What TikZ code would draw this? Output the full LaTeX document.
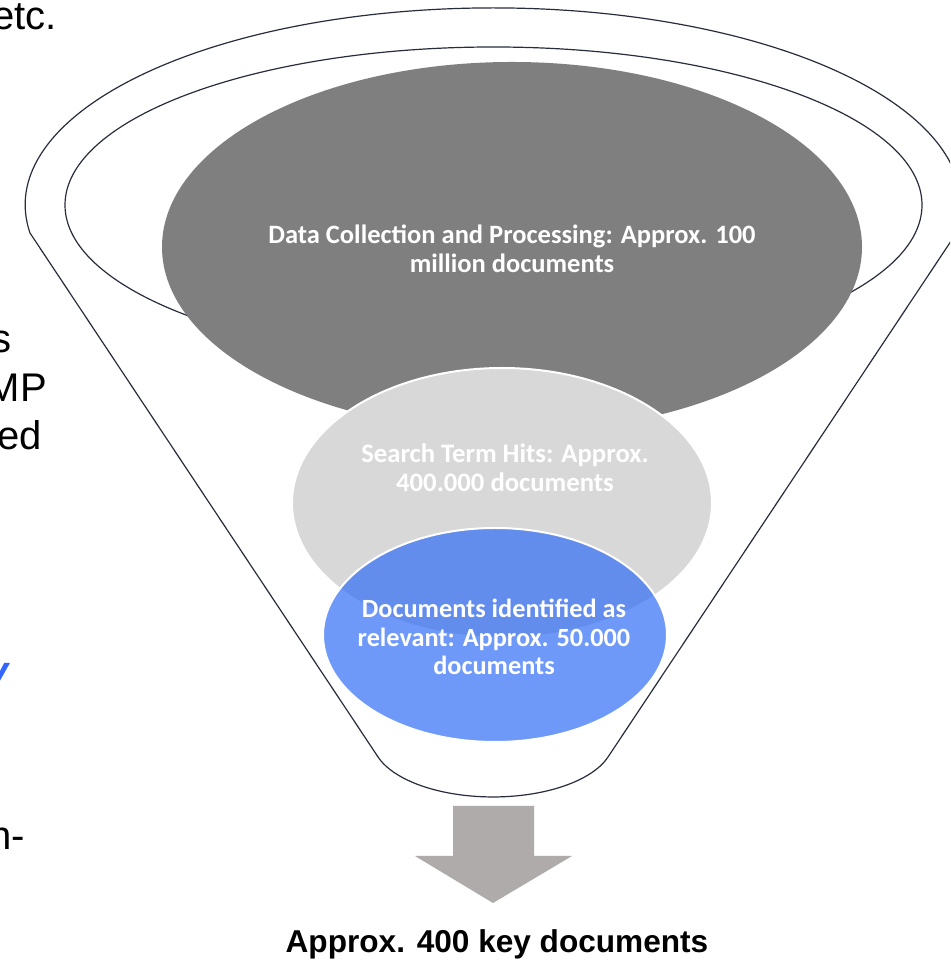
\documentclass[tikz,border=0pt]{standalone}
\usepackage{fontspec}
\setmainfont{Liberation Sans}
\newfontfamily\calib{Carlito}
\usetikzlibrary{shapes.geometric}
\definecolor{funnelline}{RGB}{40,45,60}
\definecolor{darkgrey}{RGB}{127,127,127}
\definecolor{lightgrey}{RGB}{216,216,216}
\definecolor{bluefill}{RGB}{44,106,247}
\definecolor{arrowgrey}{RGB}{175,171,171}
\definecolor{linkblue}{RGB}{51,102,255}
\tikzset{
  funnel/.style={draw=funnelline, line width=1.2pt, fill=white},
  rimline/.style={draw=funnelline, line width=1.2pt},
  stage/.style={ellipse, inner sep=0pt, outer sep=0pt},
  stagetext/.style={text=white, align=center, font=\calib\bfseries\fontsize{26.5}{29.5}\selectfont},
  frag/.style={font=\fontsize{40}{48}\selectfont, inner sep=0pt},
}
\begin{document}
\begin{tikzpicture}[x=1pt,y=1pt]
\useasboundingbox (0,0) rectangle (950,960);
\clip (0,0) rectangle (950,960);
\fill[white] (0,0) rectangle (950,960);
% funnel outline
\draw[funnel] (30,727) arc[start angle=188.2, end angle=-8.2, x radius=468, y radius=197]
  -- (608,203) arc[start angle=-17.4, end angle=-162.6, x radius=120.5, y radius=57] -- cycle;
\node[stage, rimline, minimum width=857pt, minimum height=316pt] (rim) at (493.5,755) {};
% stages
\node[stage, fill=darkgrey, minimum width=700pt, minimum height=370pt] (collect) at (512,713) {};
\node[stagetext] (collecttext) at (512,711) {Data Collection and Processing: Approx. 100\\million documents};
\node[stage, fill=lightgrey, draw=white, line width=2pt, minimum width=420pt, minimum height=270pt] (hits) at (502,457) {};
\node[stagetext, font=\calib\bfseries\fontsize{26.7}{29}\selectfont] (hitstext) at (505,492) {Search Term Hits: Approx.\\400.000 documents};
\node[stage, fill=bluefill, fill opacity=0.68, draw=white, draw opacity=1, line width=2pt, minimum width=344pt, minimum height=214pt] (relevant) at (495,325) {};
\node[stagetext, font=\calib\bfseries\fontsize{26.3}{28.5}\selectfont] (relevanttext) at (494,323) {Documents identified as\\relevant: Approx. 50.000\\documents};
% arrow
\fill[arrowgrey] (453,154) -- (534,154) -- (534,104) -- (572,104) -- (493,57) -- (415,104) -- (453,104) -- cycle;
\node[anchor=base, inner sep=0pt, font=\bfseries\fontsize{31.6}{38}\selectfont] (key) at (497,8) {Approx. 400 key documents};
% cropped text fragments on the left
\node[frag, anchor=base east] (etc) at (57,930) {etc.};
\node[frag, anchor=base east] (s) at (12,607) {s};
\node[frag, anchor=base east] (mp) at (47,558) {MP};
\node[frag, anchor=base east] (ed) at (42,510) {ed};
\node[frag, anchor=base east, text=linkblue, font=\bfseries\itshape\fontsize{40}{48}\selectfont] (v) at (9,275) {v};
\node[frag, anchor=base east] (n) at (25,110) {n-};
\end{tikzpicture}
\end{document}
